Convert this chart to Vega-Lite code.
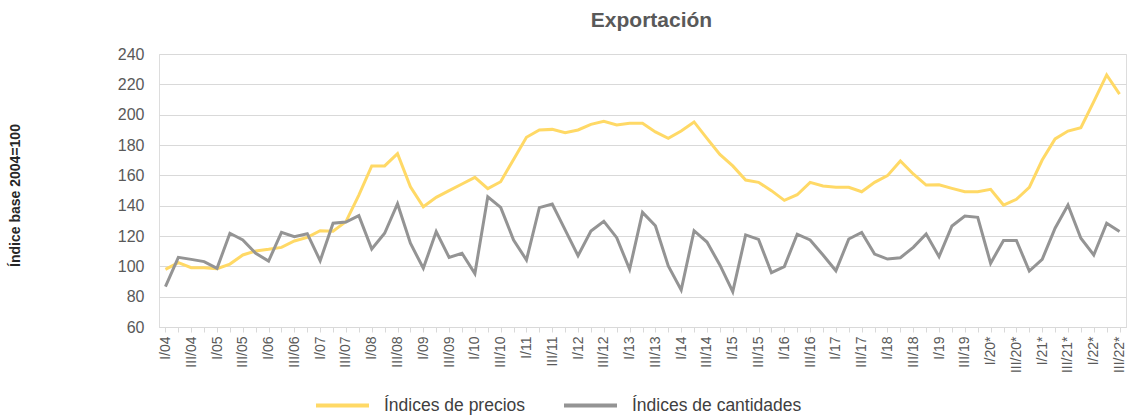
{
  "$schema": "https://vega.github.io/schema/vega-lite/v6.json",
  "autosize": {"type": "none"},
  "width": 967,
  "height": 273,
  "padding": {"left": 159, "top": 54, "right": 2, "bottom": 91},
  "background": "#ffffff",
  "title": {"text": "Exportación", "font": "Liberation Sans", "fontSize": 21, "fontWeight": "bold", "color": "#595959", "offset": 15, "anchor": "middle", "dx": 9},
  "data": {"values": [
    {"p": "I/04", "precios": 98.0, "cantidades": 86.6},
    {"p": "II/04", "precios": 102.4, "cantidades": 105.9},
    {"p": "III/04", "precios": 99.1, "cantidades": 104.6},
    {"p": "IV/04", "precios": 99.1, "cantidades": 103.1},
    {"p": "I/05", "precios": 98.5, "cantidades": 98.7},
    {"p": "II/05", "precios": 101.5, "cantidades": 121.8},
    {"p": "III/05", "precios": 107.5, "cantidades": 117.4},
    {"p": "IV/05", "precios": 110.1, "cantidades": 108.6},
    {"p": "I/06", "precios": 111.2, "cantidades": 103.5},
    {"p": "II/06", "precios": 112.5, "cantidades": 122.4},
    {"p": "III/06", "precios": 116.7, "cantidades": 119.6},
    {"p": "IV/06", "precios": 119.1, "cantidades": 121.5},
    {"p": "I/07", "precios": 123.5, "cantidades": 103.7},
    {"p": "II/07", "precios": 123.1, "cantidades": 128.4},
    {"p": "III/07", "precios": 129.5, "cantidades": 129.2},
    {"p": "IV/07", "precios": 147.0, "cantidades": 133.4},
    {"p": "I/08", "precios": 166.2, "cantidades": 111.4},
    {"p": "II/08", "precios": 166.2, "cantidades": 121.8},
    {"p": "III/08", "precios": 174.3, "cantidades": 141.3},
    {"p": "IV/08", "precios": 152.5, "cantidades": 115.2},
    {"p": "I/09", "precios": 139.3, "cantidades": 98.7},
    {"p": "II/09", "precios": 145.5, "cantidades": 122.9},
    {"p": "III/09", "precios": 149.9, "cantidades": 105.9},
    {"p": "IV/09", "precios": 154.3, "cantidades": 108.6},
    {"p": "I/10", "precios": 158.7, "cantidades": 95.2},
    {"p": "II/10", "precios": 151.2, "cantidades": 145.9},
    {"p": "III/10", "precios": 155.8, "cantidades": 138.9},
    {"p": "IV/10", "precios": 170.5, "cantidades": 117.4},
    {"p": "I/11", "precios": 185.1, "cantidades": 104.2},
    {"p": "II/11", "precios": 189.9, "cantidades": 138.7},
    {"p": "III/11", "precios": 190.3, "cantidades": 141.1},
    {"p": "IV/11", "precios": 188.1, "cantidades": 124.0},
    {"p": "I/12", "precios": 189.9, "cantidades": 107.0},
    {"p": "II/12", "precios": 193.6, "cantidades": 123.3},
    {"p": "III/12", "precios": 195.6, "cantidades": 129.7},
    {"p": "IV/12", "precios": 193.2, "cantidades": 118.9},
    {"p": "I/13", "precios": 194.3, "cantidades": 98.0},
    {"p": "II/13", "precios": 194.3, "cantidades": 135.6},
    {"p": "III/13", "precios": 188.6, "cantidades": 126.8},
    {"p": "IV/13", "precios": 184.4, "cantidades": 100.2},
    {"p": "I/14", "precios": 189.2, "cantidades": 84.4},
    {"p": "II/14", "precios": 195.2, "cantidades": 123.5},
    {"p": "III/14", "precios": 184.4, "cantidades": 116.0},
    {"p": "IV/14", "precios": 173.8, "cantidades": 100.9},
    {"p": "I/15", "precios": 166.2, "cantidades": 83.3},
    {"p": "II/15", "precios": 156.9, "cantidades": 120.7},
    {"p": "III/15", "precios": 155.4, "cantidades": 117.8},
    {"p": "IV/15", "precios": 149.9, "cantidades": 95.8},
    {"p": "I/16", "precios": 143.5, "cantidades": 99.8},
    {"p": "II/16", "precios": 147.2, "cantidades": 121.2},
    {"p": "III/16", "precios": 155.4, "cantidades": 117.4},
    {"p": "IV/16", "precios": 153.0, "cantidades": 107.5},
    {"p": "I/17", "precios": 152.1, "cantidades": 97.1},
    {"p": "II/17", "precios": 152.1, "cantidades": 118.0},
    {"p": "III/17", "precios": 149.2, "cantidades": 122.4},
    {"p": "IV/17", "precios": 155.4, "cantidades": 108.1},
    {"p": "I/18", "precios": 159.8, "cantidades": 104.8},
    {"p": "II/18", "precios": 169.5, "cantidades": 105.7},
    {"p": "III/18", "precios": 160.9, "cantidades": 112.5},
    {"p": "IV/18", "precios": 153.6, "cantidades": 121.3},
    {"p": "I/19", "precios": 153.8, "cantidades": 106.4},
    {"p": "II/19", "precios": 151.4, "cantidades": 126.6},
    {"p": "III/19", "precios": 149.2, "cantidades": 133.2},
    {"p": "IV/19", "precios": 149.2, "cantidades": 132.3},
    {"p": "I/20*", "precios": 150.8, "cantidades": 102.0},
    {"p": "II/20*", "precios": 140.4, "cantidades": 117.1},
    {"p": "III/20*", "precios": 144.2, "cantidades": 117.1},
    {"p": "IV/20*", "precios": 152.1, "cantidades": 96.9},
    {"p": "I/21*", "precios": 170.1, "cantidades": 104.6},
    {"p": "II/21*", "precios": 184.0, "cantidades": 125.1},
    {"p": "III/21*", "precios": 189.2, "cantidades": 140.4},
    {"p": "IV/21*", "precios": 191.4, "cantidades": 118.5},
    {"p": "I/22*", "precios": 208.6, "cantidades": 107.5},
    {"p": "II/22*", "precios": 226.2, "cantidades": 128.4},
    {"p": "III/22*", "precios": 213.6, "cantidades": 122.9}
  ]},
  "transform": [{"fold": ["precios", "cantidades"], "as": ["serie", "valor"]}],
  "mark": {"type": "line", "strokeWidth": 3, "strokeJoin": "miter"},
  "encoding": {
    "x": {
      "field": "p", "type": "ordinal", "sort": null, "title": null,
      "axis": {
        "labelExpr": "(indexof(datum.label, 'I/') == 0 || indexof(datum.label, 'III/') == 0) ? datum.label : ''",
        "labelAngle": -90, "labelFont": "Liberation Sans", "labelFontSize": 14, "labelColor": "#595959",
        "labelPadding": 4, "labelOverlap": false,
        "domainColor": "#d9d9d9", "tickColor": "#d9d9d9", "tickSize": 5, "grid": false
      }
    },
    "y": {
      "field": "valor", "type": "quantitative",
      "scale": {"domain": [60, 240], "nice": false, "zero": false},
      "title": "Índice base 2004=100",
      "axis": {
        "values": [60, 80, 100, 120, 140, 160, 180, 200, 220, 240],
        "labelFont": "Liberation Sans", "labelFontSize": 16, "labelColor": "#595959", "labelPadding": 15,
        "ticks": false, "domain": false,
        "gridColor": "#d9d9d9", "gridWidth": 1,
        "titleFont": "Liberation Sans", "titleFontSize": 14, "titleFontWeight": "bold", "titleColor": "#262626",
        "titleX": -144, "titleY": 141, "titleAngle": -90, "titleAlign": "center", "titleBaseline": "middle"
      }
    },
    "color": {
      "field": "serie", "type": "nominal",
      "scale": {"domain": ["precios", "cantidades"], "range": ["#ffd966", "#949494"]},
      "legend": {
        "title": null, "orient": "none", "direction": "horizontal",
        "legendX": 155, "legendY": 323,
        "labelExpr": "datum.label == 'precios' ? 'Índices de precios' : 'Índices de cantidades'",
        "symbolType": "stroke", "symbolSize": 2809, "symbolStrokeWidth": 4,
        "labelFont": "Liberation Sans", "labelFontSize": 17.5, "labelColor": "#404040", "labelLimit": 400,
        "labelOffset": 13, "columnPadding": 30
      }
    }
  }
}
